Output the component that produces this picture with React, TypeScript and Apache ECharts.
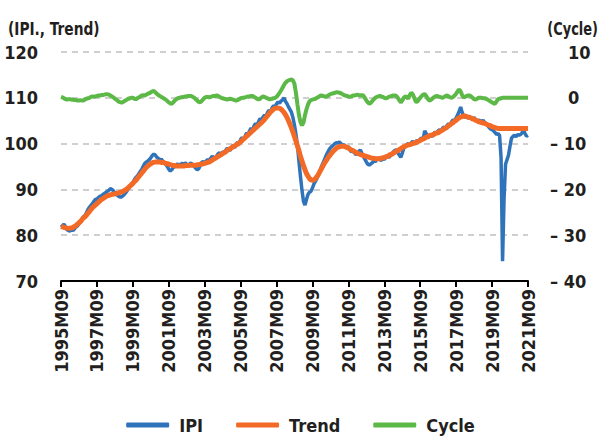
import React, { useEffect, useRef } from "react";
import * as echarts from "echarts";

const START_YEAR = 1995;
const START_MONTH = 9;
const N_MONTHS = 313;

const ipi: number[] = [
  82.3, 82.0, 82.4, 81.8,
  81.2, 81.0, 80.9, 81.3, 81.0, 81.4, 81.8, 82.0, 82.5, 82.9, 83.5, 84.0,
  84.3, 84.9, 85.6, 86.1, 86.5, 86.9, 87.4, 87.8, 87.9, 88.2, 88.5, 88.6,
  88.9, 89.1, 89.3, 89.6, 89.8, 90.2, 90.0, 89.7, 89.2, 88.9, 88.6, 88.4,
  88.3, 88.5, 88.8, 89.2, 89.6, 90.2, 90.6, 91.1, 91.5, 92.1, 92.6, 92.9,
  93.4, 93.9, 94.4, 95.1, 95.7, 96.0, 96.2, 96.5, 96.9, 97.4, 97.7, 97.5,
  97.0, 96.8, 96.4, 96.6, 96.2, 95.8, 95.5, 95.0, 94.4, 94.0, 94.3, 94.8,
  95.0, 95.3, 95.6, 95.2, 95.5, 95.7, 95.4, 95.8, 95.5, 95.2, 95.6, 95.7,
  95.4, 95.0, 94.6, 94.3, 94.5, 95.2, 95.9, 96.1, 95.8, 96.2, 96.5, 96.3,
  96.8, 97.2, 97.0, 96.6, 97.3, 97.8, 98.0, 97.6, 98.2, 98.0, 98.5, 99.0,
  98.7, 98.5, 99.2, 99.6, 99.1, 99.8, 100.3, 100.0, 100.9, 101.3, 101.0, 101.6,
  102.3, 102.0, 102.8, 103.4, 103.0, 103.9, 104.4, 104.1, 104.8, 105.5, 105.1, 105.8,
  106.2, 106.0, 106.8, 107.3, 107.0, 107.8, 108.3, 108.0, 108.7, 109.1, 108.8, 109.3,
  109.5, 110.0, 109.2, 108.7, 108.0, 107.4, 106.8, 105.6, 104.0, 102.0, 99.5, 96.0,
  92.8, 89.8, 87.4, 86.6, 87.8, 88.9, 89.4, 89.6, 90.3, 91.2, 91.8, 92.4,
  93.2, 94.0, 95.0, 95.7, 96.5, 97.3, 98.0, 98.6, 99.1, 99.4, 99.7, 100.0,
  100.2, 100.1, 100.4, 100.0, 99.6, 99.8, 99.3, 99.0, 99.4, 98.6, 98.2, 98.5,
  98.0, 97.6, 97.8, 98.3, 98.6, 97.9, 97.2, 96.6, 96.0, 95.5, 95.3, 95.6,
  95.8, 96.3, 96.0, 96.6, 96.9, 96.5, 96.3, 96.8, 96.5, 97.1, 97.4, 97.0,
  97.3, 97.8, 98.2, 98.5, 98.6, 98.0, 97.5, 97.0, 97.9, 99.0, 99.4, 99.8,
  100.0, 99.6, 100.2, 100.5, 100.1, 100.3, 100.8, 100.5, 101.0, 101.2, 101.0, 102.8,
  102.2, 101.3, 101.6, 101.9, 101.5, 102.2, 102.5, 102.1, 102.8, 103.0, 102.7, 103.4,
  103.6, 103.2, 104.0, 104.3, 104.0, 104.8, 105.2, 105.0, 105.6, 106.3, 107.0, 108.0,
  106.8, 106.0, 105.7, 106.0, 105.5, 105.8, 105.6, 105.4, 105.7, 105.2, 104.9, 105.1,
  105.0, 104.8, 105.1, 104.6, 104.4, 104.0, 103.5, 103.2, 103.0, 102.8, 102.4, 102.0,
  102.2, 101.8, 97.0, 74.3, 88.0, 95.5, 96.5, 97.5, 99.5, 101.2, 101.6, 101.8,
  101.5, 102.0, 101.8, 102.0, 102.3, 103.0, 102.2, 101.6, 101.8,
];

const trend: number[] = [
  81.9, 81.8, 81.7, 81.6,
  81.5, 81.5, 81.5, 81.6, 81.7, 81.9, 82.1, 82.4, 82.7, 83.0, 83.4, 83.8,
  84.0, 84.4, 84.8, 85.2, 85.6, 86.0, 86.3, 86.6, 86.9, 87.2, 87.5, 87.8,
  88.0, 88.2, 88.4, 88.6, 88.7, 88.8, 88.9, 89.0, 89.0, 89.1, 89.2, 89.3,
  89.4, 89.5, 89.7, 89.9, 90.1, 90.4, 90.7, 91.0, 91.3, 91.7, 92.0, 92.4,
  92.8, 93.2, 93.6, 94.0, 94.4, 94.8, 95.1, 95.4, 95.6, 95.8, 95.9, 96.0,
  96.0, 96.0, 96.0, 95.9, 95.9, 95.8, 95.7, 95.6, 95.5, 95.4, 95.3, 95.2,
  95.2, 95.1, 95.1, 95.1, 95.1, 95.1, 95.1, 95.2, 95.2, 95.2, 95.3, 95.3,
  95.3, 95.3, 95.3, 95.4, 95.4, 95.5, 95.5, 95.6, 95.7, 95.8, 95.9, 96.0,
  96.2, 96.4, 96.6, 96.8, 97.0, 97.2, 97.4, 97.6, 97.8, 98.0, 98.2, 98.5,
  98.7, 98.9, 99.1, 99.3, 99.5, 99.7, 99.9, 100.1, 100.4, 100.7, 101.0, 101.3,
  101.6, 101.9, 102.2, 102.5, 102.8, 103.1, 103.4, 103.7, 104.0, 104.3, 104.6, 104.9,
  105.3, 105.7, 106.1, 106.5, 106.9, 107.2, 107.5, 107.7, 107.8, 107.8, 107.7, 107.5,
  107.2, 106.8, 106.3, 105.7, 105.0, 104.2, 103.4, 102.5, 101.5, 100.5, 99.5, 98.4,
  97.2, 96.2, 95.2, 94.3, 93.5, 92.9, 92.4, 92.1, 92.0, 92.1, 92.4, 92.8,
  93.3, 93.9, 94.5, 95.1, 95.7, 96.2, 96.7, 97.2, 97.6, 98.0, 98.4, 98.7,
  99.0, 99.2, 99.3, 99.4, 99.4, 99.4, 99.3, 99.2, 99.0, 98.8, 98.6, 98.5,
  98.3, 98.1, 97.9, 97.8, 97.6, 97.5, 97.4, 97.3, 97.2, 97.1, 97.0, 96.9,
  96.8, 96.8, 96.7, 96.7, 96.7, 96.7, 96.8, 96.9, 97.0, 97.1, 97.2, 97.4,
  97.6, 97.7, 97.9, 98.1, 98.3, 98.5, 98.7, 98.9, 99.1, 99.3, 99.4, 99.6,
  99.7, 99.8, 99.9, 100.0, 100.1, 100.2, 100.4, 100.5, 100.7, 100.9, 101.0, 101.2,
  101.4, 101.5, 101.7, 101.8, 101.9, 102.0, 102.2, 102.3, 102.4, 102.6, 102.8, 103.0,
  103.2, 103.4, 103.6, 103.9, 104.1, 104.4, 104.6, 104.9, 105.1, 105.4, 105.6, 105.8,
  105.9, 106.0, 106.0, 105.9, 105.8, 105.7, 105.6, 105.4, 105.3, 105.1, 105.0, 104.8,
  104.7, 104.6, 104.5, 104.4, 104.3, 104.1, 104.0, 103.9, 103.7, 103.6, 103.5, 103.4,
  103.3, 103.3, 103.3, 103.3, 103.3, 103.3, 103.3, 103.3, 103.3, 103.3, 103.3, 103.3,
  103.3, 103.3, 103.3, 103.3, 103.3, 103.3, 103.3, 103.3, 103.3,
];

const cycle: number[] = [
  0.2, 0.1, -0.1, -0.3,
  -0.4, -0.3, -0.3, -0.4, -0.4, -0.5, -0.5, -0.6, -0.6, -0.5, -0.6, -0.6,
  -0.4, -0.2, -0.1, 0.0, 0.2, 0.3, 0.2, 0.3, 0.4, 0.5, 0.5, 0.6,
  0.6, 0.7, 0.8, 0.8, 0.7, 0.5, 0.3, 0.1, -0.2, -0.4, -0.7, -0.9,
  -1.0, -1.0, -0.8, -0.6, -0.4, -0.2, -0.1, 0.0, 0.0, -0.2, -0.3, -0.1,
  0.1, 0.3, 0.5, 0.6, 0.5, 0.7, 0.9, 1.0, 1.2, 1.4, 1.5, 1.2,
  0.9, 0.6, 0.4, 0.2, 0.0, -0.2, -0.4, -0.7, -1.0, -1.2, -1.3, -1.0,
  -0.6, -0.3, -0.1, 0.0, 0.1, 0.1, 0.2, 0.3, 0.3, 0.4, 0.4, 0.4,
  0.2, 0.0, -0.3, -0.6, -0.9, -1.0, -0.7, -0.3, 0.0, 0.2, 0.2, 0.1,
  0.2, 0.3, 0.4, 0.4, 0.5, 0.4, 0.2, 0.0, -0.1, -0.2, -0.3, -0.4,
  -0.3, -0.2, -0.3, -0.4, -0.5, -0.6, -0.5, -0.3, -0.1, 0.0, 0.0, 0.1,
  0.2, 0.3, 0.3, 0.4, 0.4, 0.2, 0.0, -0.2, -0.4, -0.2, 0.1, 0.3,
  0.2, 0.0, -0.1, -0.3, -0.3, -0.2, -0.1, 0.0, 0.2, 0.6, 1.1, 1.6,
  2.2, 2.8, 3.3, 3.6, 3.8, 3.9, 4.0, 3.8, 3.0, 1.0, -1.5, -3.8,
  -5.3, -6.0, -5.4, -3.8, -2.5, -1.5, -0.8, -0.5, -0.4, -0.3, -0.2, 0.0,
  0.2, 0.4, 0.5, 0.4, 0.3, 0.2, 0.4, 0.6, 0.8, 0.9, 1.0, 1.1,
  1.2, 1.2, 1.1, 1.0, 0.8, 0.6, 0.5, 0.4, 0.3, 0.2, 0.3, 0.5,
  0.5, 0.6, 0.7, 0.6, 0.5, 0.6, 0.5, 0.0, -0.6, -1.0, -1.3, -1.1,
  -0.7, -0.3, 0.0, 0.2, 0.3, 0.4, 0.3, 0.2, 0.0, -0.1, 0.0, 0.2,
  0.3, 0.4, 0.5, 0.5, 0.4, 0.0, -0.5, -1.0, -0.6, 0.0, 0.3, 0.2,
  -0.2, 0.6, 1.1, 0.8, 0.0, -0.8, -0.9, -0.4, 0.0, 0.4, 0.7, 0.8,
  0.4, -0.2, -0.6, -0.5, -0.2, 0.1, 0.3, 0.4, 0.3, 0.2, 0.1, 0.0,
  0.2, 0.4, 0.5, 0.3, 0.1, 0.0, 0.2, 0.5, 0.9, 1.4, 1.8, 1.4,
  0.6, 0.1, 0.2, 0.4, 0.5, 0.5, 0.3, 0.0, -0.3, -0.4, -0.2, 0.0,
  0.0, 0.0, -0.1, -0.1, -0.2, -0.4, -0.6, -0.8, -1.0, -1.2, -1.3, -0.8,
  -0.3, -0.2, -0.1, 0.0, 0.0, 0.0, 0.0, 0.0, 0.0, 0.0, 0.0, 0.0,
  0.0, 0.0, 0.0, 0.0, 0.0, 0.0, 0.0, 0.0, 0.0,
];

const seriesNames = ["IPI", "Trend", "Cycle"];
const seriesColors = ["#2f73bb", "#f26a26", "#5cb947"];
const leftTitle = "(IPI., Trend)";
const rightTitle = "(Cycle)";

const months: string[] = [];
for (let i = 0; i < N_MONTHS; i++) {
  const t = START_MONTH - 1 + i;
  const y = START_YEAR + Math.floor(t / 12);
  const m = (t % 12) + 1;
  months.push(`${y}M${m < 10 ? "0" + m : m}`);
}

const FONT = "'Liberation Sans Narrow', 'DejaVu Sans Condensed', Roboto, sans-serif";
const TXT = "#231f20";

export default function App() {
  const ref = useRef<HTMLDivElement>(null);
  useEffect(() => {
    if (!ref.current) return;
    const chart = echarts.init(ref.current, undefined, { renderer: "svg" });
    const labelFont = { fontFamily: FONT, fontWeight: "bold" as const, fontSize: 18, color: TXT };
    chart.setOption({
      animation: false,
      backgroundColor: "#ffffff",
      grid: { left: 61, right: 73, top: 52, bottom: 161, containLabel: false },
      graphic: [
        {
          type: "text",
          x: 8,
          y: 20,
          scaleX: 0.85,
          style: {
            text: leftTitle,
            font: `bold 18px ${FONT}`,
            fill: TXT,
            align: "left",
            verticalAlign: "top",
          },
        },
        {
          type: "text",
          x: 598,
          y: 20,
          scaleX: 0.8,
          style: {
            text: rightTitle,
            font: `bold 18px ${FONT}`,
            fill: TXT,
            align: "right",
            verticalAlign: "top",
          },
        },
      ],
      legend: {
        bottom: 3,
        left: "center",
        itemWidth: 43,
        itemHeight: 5,
        itemGap: 33,
        data: seriesNames.map((n) => ({ name: n, icon: "roundRect" })),
        textStyle: { ...labelFont, padding: [0, 0, 0, 5] },
      },
      xAxis: {
        type: "category",
        data: months,
        boundaryGap: false,
        axisLine: { onZero: false, lineStyle: { color: "#000", width: 2 } },
        axisTick: { interval: 23, length: 6, lineStyle: { color: "#000", width: 2 } },
        axisLabel: { interval: 23, rotate: 90, margin: 8, ...labelFont },
        splitLine: { show: false },
      },
      yAxis: [
        {
          type: "value",
          min: 70,
          max: 120,
          interval: 10,
          axisLine: { show: false },
          axisTick: { show: false },
          axisLabel: { margin: 23, ...labelFont },
          splitLine: { lineStyle: { color: "#c0c0c0", width: 1.5, type: [6, 5] } },
        },
        {
          type: "value",
          min: -40,
          max: 10,
          interval: 10,
          position: "right",
          axisLine: { show: false },
          axisTick: { show: false },
          splitLine: { show: false },
          axisLabel: {
            margin: 22,
            align: "left",
            formatter: (v: number) => (v < 0 ? `{n|– ${-v}}` : `{p|${v}}`),
            rich: {
              n: { ...labelFont },
              p: { ...labelFont, padding: [0, 0, 0, 18] },
            },
          },
        },
      ],
      series: [
        {
          name: seriesNames[0],
          type: "line",
          data: ipi,
          yAxisIndex: 0,
          showSymbol: false,
          color: seriesColors[0],
          lineStyle: { width: 3.5, color: seriesColors[0] },
          z: 2,
        },
        {
          name: seriesNames[1],
          type: "line",
          data: trend,
          yAxisIndex: 0,
          showSymbol: false,
          smooth: true,
          color: seriesColors[1],
          lineStyle: { width: 5, color: seriesColors[1] },
          z: 3,
        },
        {
          name: seriesNames[2],
          type: "line",
          data: cycle,
          yAxisIndex: 1,
          showSymbol: false,
          color: seriesColors[2],
          lineStyle: { width: 4, color: seriesColors[2] },
          z: 4,
        },
      ],
    });
    return () => chart.dispose();
  }, []);
  return (
    <div
      ref={ref}
      style={{ position: "fixed", left: 0, top: 0, width: 601, height: 442, background: "#fff" }}
    />
  );
}
